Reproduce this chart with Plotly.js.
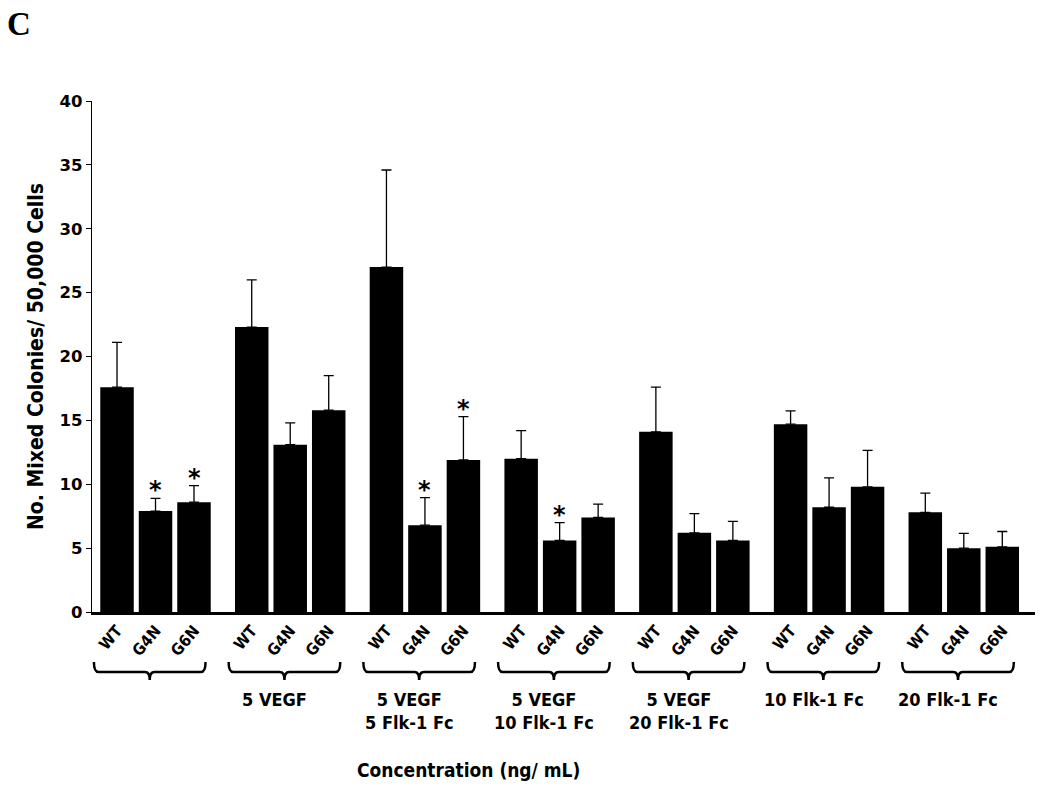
<!DOCTYPE html>
<html><head><meta charset="utf-8">
<script src="https://cdn.plot.ly/plotly-3.0.1.min.js"></script>
<style>html,body{margin:0;padding:0;background:#fff}#c{width:1050px;height:791px}</style>
</head><body><div id="c"></div>
<script>
const groupLabels = ['', '5 VEGF', '5 VEGF<br>5 Flk-1 Fc', '5 VEGF<br>10 Flk-1 Fc', '5 VEGF<br>20 Flk-1 Fc', '10 Flk-1 Fc', '20 Flk-1 Fc'];
const genotypes = ['WT', 'G4N', 'G6N'];
const wt     = [17.6, 22.3, 27.0, 12.0, 14.1, 14.7, 7.8];
const wtErr  = [3.5, 3.7, 7.6, 2.2, 3.5, 1.05, 1.5];
const g4n    = [7.9, 13.1, 6.8, 5.6, 6.2, 8.2, 5.0];
const g4nErr = [1.0, 1.7, 2.15, 1.4, 1.5, 2.3, 1.15];
const g6n    = [8.6, 15.8, 11.9, 7.4, 5.6, 9.8, 5.1];
const g6nErr = [1.3, 2.7, 3.4, 1.05, 1.5, 2.85, 1.2];
const g4nSig = [true, false, true, true, false, false, false];
const g6nSig = [true, false, true, false, false, false, false];

const PITCH = 3.5;
const series = [[wt, wtErr], [g4n, g4nErr], [g6n, g6nErr]];
const FONT = 'DejaVu Sans Condensed, DejaVu Sans, sans-serif';
const L = 92, R = 15, T = 101, B = 179, W = 1050, H = 791;
const pw = W - L - R, ph = H - T - B;
const py = p => (H - B - p) / ph;   // pixel row -> paper y
const px = p => (p - L) / pw;       // pixel col -> paper x

const traces = series.map((s, i) => ({
  type: 'bar',
  x: groupLabels.map((_, g) => g * PITCH + i),
  y: s[0],
  width: 0.87,
  marker: {color: '#000', line: {width: 0}},
  error_y: {type: 'data', array: s[1], arrayminus: s[1].map(() => 0), symmetric: false,
            color: '#000', thickness: 1.3, width: 5},
  name: genotypes[i], showlegend: false, hoverinfo: 'x+y'
}));

const tickvals = [], ticktext = [];
groupLabels.forEach((_, g) => genotypes.forEach((t, i) => { tickvals.push(g * PITCH + i); ticktext.push(t); }));

const annotations = [];
const shapes = [];
groupLabels.forEach((lab, g) => {
  const c = g * PITCH + 1;
  const m = c - 0.15, l = m - 1.45, r = m + 1.45;
  const y0 = py(662), y1 = py(672), y2 = py(680);
  const e = 0.12;
  shapes.push({type: 'path', xref: 'x', yref: 'paper',
    path: `M ${l} ${y0} Q ${l} ${y1} ${l + e} ${y1} L ${m - e} ${y1} Q ${m} ${y1} ${m} ${y2} Q ${m} ${y1} ${m + e} ${y1} L ${r - e} ${y1} Q ${r} ${y1} ${r} ${y0}`,
    line: {color: '#000', width: 2.5}});
  if (lab) annotations.push({x: c - 0.4, xref: 'x', y: py(687), yref: 'paper', yanchor: 'top',
    text: lab, showarrow: false, align: 'center',
    font: {family: FONT, size: 18, color: '#000', weight: 'bold'}});
});
[[g4n, g4nErr, g4nSig, 1], [g6n, g6nErr, g6nSig, 2]].forEach(([v, e, s, i]) => {
  s.forEach((f, g) => { if (f) annotations.push({x: g * PITCH + i, xref: 'x', y: v[g] + e[g], yref: 'y',
    yanchor: 'bottom', yshift: -8, text: '*', showarrow: false,
    font: {family: 'DejaVu Sans, sans-serif', size: 24, color: '#000', weight: 'bold'}}); });
});
annotations.push({x: px(468), xref: 'paper', y: py(770), yref: 'paper', xanchor: 'center', yanchor: 'middle',
  text: 'Concentration (ng/ mL)', showarrow: false,
  font: {family: FONT, size: 19, color: '#000', weight: 'bold'}});
annotations.push({x: px(5), xref: 'paper', y: py(4), yref: 'paper', xanchor: 'left', yanchor: 'top',
  text: 'C', showarrow: false,
  font: {family: 'Liberation Serif, serif', size: 33, color: '#000', weight: 'bold'}});

const layout = {
  width: W, height: H,
  margin: {l: L, r: R, t: T, b: B},
  paper_bgcolor: '#fff', plot_bgcolor: '#fff',
  barmode: 'overlay',
  xaxis: {range: [-0.65, 23.85], tickvals, ticktext, tickangle: -50, ticks: '', showgrid: false, zeroline: false,
          showline: true, linecolor: '#000', linewidth: 3,
          tickfont: {family: FONT, size: 16, color: '#000', weight: 'bold'}},
  yaxis: {range: [0, 40], dtick: 5, tick0: 0, ticks: 'outside', ticklen: 5, tickwidth: 1, tickcolor: '#000',
          showgrid: false, zeroline: false, showline: true, linecolor: '#000', linewidth: 1.3,
          tickfont: {family: 'DejaVu Sans, sans-serif', size: 16.5, color: '#000', weight: 'bold'},
          title: {text: 'No. Mixed Colonies/ 50,000 Cells', standoff: 10,
                  font: {family: FONT, size: 21, color: '#000', weight: 'bold'}}},
  shapes, annotations
};
Plotly.newPlot('c', traces, layout, {displayModeBar: false, staticPlot: true});
</script></body></html>
